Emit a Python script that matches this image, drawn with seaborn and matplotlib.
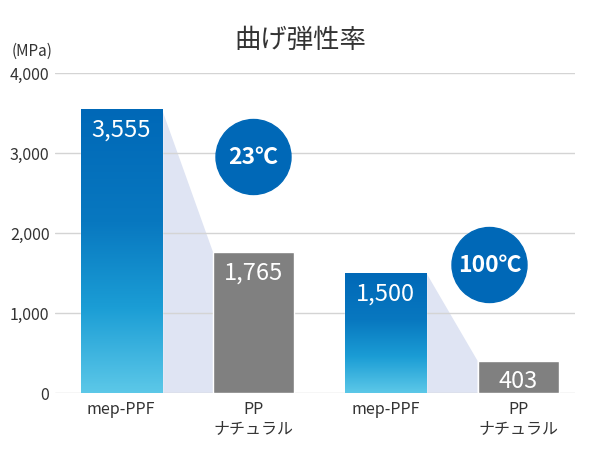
import numpy as np
import pandas as pd
import seaborn as sns
import matplotlib.pyplot as plt
from matplotlib.patches import Circle
from matplotlib.colors import LinearSegmentedColormap
from matplotlib.ticker import FuncFormatter

# data
keys = ["mep_23", "pp_23", "mep_100", "pp_100"]
labels = ["mep-PPF", "PP\nナチュラル", "mep-PPF", "PP\nナチュラル"]
values = [3555, 1765, 1500, 403]
temps = ["23℃", "100℃"]

sns.set_theme(style="white")
plt.rcParams['font.family'] = ['Noto Sans CJK JP', 'DejaVu Sans']

df = pd.DataFrame({"key": keys, "value": values})

fig = plt.figure(figsize=(6, 4.5), dpi=100)
ax = fig.add_axes([55 / 600, 57 / 450, 520 / 600, 320 / 450])

w = 0.613
sns.barplot(data=df, x="key", y="value", order=keys, width=w,
            color="#808080", saturation=1, ax=ax, zorder=2)

# gradient for mep-PPF bars
cmap = LinearSegmentedColormap.from_list(
    "mep", [(0.0, "#5cc8e8"), (0.3, "#1b9dd5"), (0.6, "#0878c0"), (1.0, "#0068b7")])
grad = np.linspace(0, 1, 256).reshape(-1, 1)
bars = ax.patches[:4]
for i in (0, 2):
    b = bars[i]
    x0, y0 = b.get_x(), b.get_y()
    bw, bh = b.get_width(), b.get_height()
    b.set_facecolor("none")
    im = ax.imshow(grad, cmap=cmap, origin="lower", aspect="auto",
                   extent=[x0, x0 + bw, y0, y0 + bh], zorder=2)
    im.set_clip_path(b)

# connector shading
for i in (0, 2):
    xa = i + w / 2
    xb = i + 1 - w / 2
    ax.fill([xa, xa, xb, xb], [0, values[i], values[i + 1], 0],
            color="#dfe4f3", lw=0, zorder=0.3)

# value labels
for i, v in enumerate(values):
    ax.text(i, v - 120, f"{v:,}", ha="center", va="top", color="white",
            fontsize=17, zorder=3)

ax.set_xlim(-0.5, 3.43)
ax.set_ylim(0, 4000)
ax.set_yticks([0, 1000, 2000, 3000, 4000])
ax.yaxis.set_major_formatter(FuncFormatter(lambda v, p: f"{int(v):,}"))
ax.set_xticks(range(4))
ax.set_xticklabels(labels, linespacing=1.15)
ax.tick_params(axis="both", colors="#333333", labelsize=11.5, length=0)
ax.tick_params(axis="x", pad=6)
ax.tick_params(axis="y", pad=4)
ax.set_xlabel("")
ax.set_ylabel("")
ax.set_axisbelow(True)
ax.grid(axis="y", color="#d4d4d4", lw=1)
ax.grid(axis="x", visible=False)
sns.despine(ax=ax, left=True, bottom=True)

fig.text(300 / 600, 1 - 40 / 450, "曲げ弾性率", ha="center", va="center",
         fontsize=19, color="#333333")
fig.text(12 / 600, 1 - 51 / 450, "(MPa)", ha="left", va="center",
         fontsize=11, color="#333333")

# temperature badges
for (cx, cy), t in zip([(253.5, 157), (489.5, 265)], temps):
    c = Circle((cx / 100, (450 - cy) / 100), 0.375, transform=fig.dpi_scale_trans,
               color="#0068b7", zorder=5)
    fig.patches.append(c)
    fig.text(cx / 600, 1 - cy / 450, t, ha="center", va="center", color="white",
             fontsize=16.5, fontweight="bold", zorder=6)

fig.savefig("out.png", dpi=100)
